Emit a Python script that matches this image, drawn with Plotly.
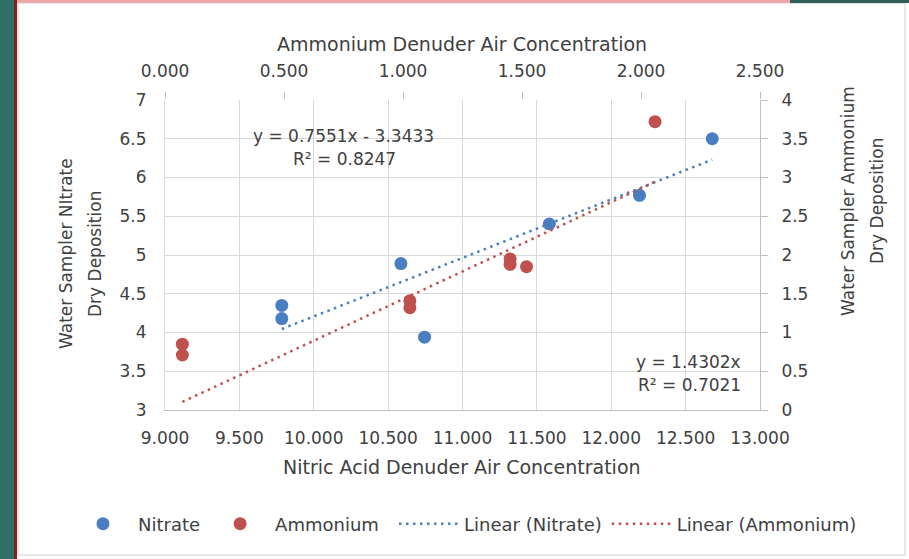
import plotly.graph_objects as go

# ---- data ----
nitrate_x = [9.785, 9.785, 10.586, 10.745, 11.584, 12.190, 12.679]
nitrate_y = [4.35, 4.18, 4.89, 3.94, 5.40, 5.77, 6.50]

ammonium_x = [0.073, 0.073, 1.029, 1.029, 1.450, 1.450, 1.519, 2.059]
ammonium_y = [0.85, 0.71, 1.41, 1.32, 1.95, 1.88, 1.85, 3.72]

# trendline coefficients shown on the chart
nitrate_slope, nitrate_intercept = 0.7551, -3.3433
ammonium_slope, ammonium_intercept = 1.4302, 0.0

eq_nitrate = ["y = 0.7551x - 3.3433", "R² = 0.8247"]
eq_ammonium = ["y = 1.4302x", "R² = 0.7021"]

BLUE = "#4A7EC0"
RED = "#C0504D"
GRID = "#D9D9D9"
AXIS = "#BFBFBF"
TXT = "#404040"
FONT = "DejaVu Sans"

# plot-area geometry in pixels (for decorative frame shapes)
W, H = 909, 559
L, R, T, B = 165, 149, 100, 149
PW, PH = W - L - R, H - T - B


def px(x):
    return (x - L) / PW


def py(y):
    return (H - B - y) / PH


nx = [min(nitrate_x), max(nitrate_x)]
ny = [nitrate_slope * v + nitrate_intercept for v in nx]
ax_ = [min(ammonium_x), max(ammonium_x)]
ay = [ammonium_slope * v + ammonium_intercept for v in ax_]

fig = go.Figure()
fig.add_trace(go.Scatter(x=nitrate_x, y=nitrate_y, mode="markers", name="Nitrate", legend="legend",
                         marker=dict(color=BLUE, size=13, line=dict(width=0))))
fig.add_trace(go.Scatter(x=ammonium_x, y=ammonium_y, mode="markers", name="Ammonium", legend="legend",
                         xaxis="x2", yaxis="y2",
                         marker=dict(color=RED, size=13, line=dict(width=0))))
fig.add_trace(go.Scatter(x=nx, y=ny, mode="lines", name="Linear (Nitrate)", legend="legend2",
                         line=dict(color=BLUE, width=2.5, dash="2.5px,4.5px")))
fig.add_trace(go.Scatter(x=ax_, y=ay, mode="lines", name="Linear (Ammonium)", legend="legend2",
                         xaxis="x2", yaxis="y2",
                         line=dict(color=RED, width=2.5, dash="2.5px,4.5px")))

shapes = [
    # chart frame
    dict(type="rect", xref="paper", yref="paper", x0=px(18), x1=px(905), y0=py(555), y1=py(3),
         line=dict(color="#D0D0D0", width=1), fillcolor="rgba(0,0,0,0)", layer="below"),
    # left teal strip + red line
    dict(type="rect", xref="paper", yref="paper", x0=px(0), x1=px(14), y0=py(H), y1=py(0),
         line=dict(width=0), fillcolor="#2F6F66", layer="below"),
    dict(type="rect", xref="paper", yref="paper", x0=px(14), x1=px(17), y0=py(H), y1=py(0),
         line=dict(width=0), fillcolor="#8E1B1B", layer="below"),
    # top pink line and dark corner
    dict(type="rect", xref="paper", yref="paper", x0=px(17), x1=px(790), y0=py(3), y1=py(0),
         line=dict(width=0), fillcolor="#EDA9A9", layer="below"),
    dict(type="rect", xref="paper", yref="paper", x0=px(790), x1=px(W), y0=py(3), y1=py(0),
         line=dict(width=0), fillcolor="#2F5F5A", layer="below"),
]


def ann(text, x, y, size, xanchor="center", angle=0):
    return dict(text=text, xref="paper", yref="paper", x=px(x), y=py(y), showarrow=False,
                xanchor=xanchor, yanchor="middle", textangle=angle,
                font=dict(family=FONT, size=size, color=TXT))


annotations = [
    ann(eq_nitrate[0], 343, 136, 17),
    ann(eq_nitrate[1], 344, 159, 17),
    ann(eq_ammonium[0], 743, 362, 17, xanchor="right"),
    ann(eq_ammonium[1], 743, 385, 17, xanchor="right"),
    ann("Ammonium Denuder Air Concentration", 462, 44, 19),
    ann("Nitric Acid Denuder Air Concentration", 462, 467, 19),
    ann("Water Sampler NItrate", 66, 254, 17, angle=-90),
    ann("Dry Deposition", 95, 254, 17, angle=-90),
    ann("Water Sampler Ammonium", 848, 201, 17, angle=-90),
    ann("Dry Deposition", 877, 201, 17, angle=-90),
]

tickfont = dict(family=FONT, size=17, color=TXT)
legfont = dict(family=FONT, size=18, color=TXT)

fig.update_layout(
    width=W, height=H,
    margin=dict(l=L, r=R, t=T, b=B),
    paper_bgcolor="white", plot_bgcolor="white",
    shapes=shapes, annotations=annotations,
    showlegend=True,
    legend=dict(orientation="h", x=px(68), y=py(524), xanchor="left", yanchor="middle",
                font=legfont, itemwidth=60, bgcolor="rgba(0,0,0,0)"),
    legend2=dict(orientation="h", x=px(394), y=py(524), xanchor="left", yanchor="middle",
                 font=legfont, itemwidth=60, bgcolor="rgba(0,0,0,0)"),
    xaxis=dict(range=[9, 13], dtick=0.5, tick0=9, tickformat=".3f", showgrid=True, gridcolor=GRID,
               gridwidth=1, showline=True, linecolor=AXIS, linewidth=1, ticks="", zeroline=False,
               tickfont=tickfont, ticklabelstandoff=13),
    yaxis=dict(range=[3, 7], dtick=0.5, tick0=3, showgrid=True, gridcolor=GRID, gridwidth=1,
               showline=True, linecolor=GRID, linewidth=1, ticks="", zeroline=False,
               tickfont=tickfont, ticklabelstandoff=14),
    xaxis2=dict(range=[0, 2.5], dtick=0.5, tick0=0, tickformat=".3f", overlaying="x", side="top",
                anchor="y", showgrid=False, showline=False, zeroline=False, ticks="outside",
                ticklen=7, tickcolor=AXIS, tickwidth=1, tickfont=tickfont, ticklabelstandoff=8),
    yaxis2=dict(range=[0, 4], dtick=0.5, tick0=0, overlaying="y", side="right", anchor="x",
                showgrid=False, showline=True, linecolor=AXIS, linewidth=1, zeroline=False,
                ticks="outside", ticklen=7, tickcolor=AXIS, tickwidth=1, tickfont=tickfont,
                ticklabelstandoff=10),
)

fig.write_html("out.html")
